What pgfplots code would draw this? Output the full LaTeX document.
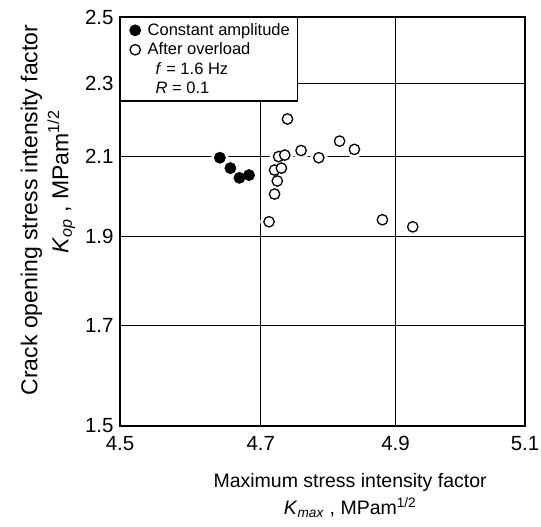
\documentclass[border=0pt]{standalone}
\usepackage{fontspec}
\setmainfont{Liberation Sans}
\usepackage{pgfplots}
\pgfplotsset{compat=1.18}

% K_op against K_max, both axes logarithmic
\pgfplotstableread{
kmax   kop
4.641  2.097
4.656  2.070
4.669  2.045
4.683  2.052
}\constamp
\pgfplotstableread{
kmax   kop
4.739  2.201
4.726  2.100
4.735  2.104
4.759  2.116
4.785  2.097
4.816  2.141
4.838  2.119
4.720  2.065
4.730  2.070
4.724  2.037
4.720  2.004
4.712  1.936
4.880  1.941
4.926  1.924
}\overload

\begin{document}
\begin{tikzpicture}
\useasboundingbox (-120pt,-101pt) rectangle (421pt,426pt);
\begin{axis}[
    at={(0pt,0pt)}, anchor=south west,
    scale only axis, width=405pt, height=409pt,
    xmode=log, ymode=log,
    xmin=4.5, xmax=5.1, ymin=1.5, ymax=2.5,
    xtick={4.5,4.7,4.9,5.1}, xticklabels={4.5,4.7,4.9,5.1},
    ytick={1.5,1.7,1.9,2.1,2.3,2.5}, yticklabels={1.5,1.7,1.9,2.1,2.3,2.5},
    minor xtick={}, minor ytick={},
    major tick length=0pt,
    grid=major, major grid style={black, line width=0.9pt},
    axis line style={line width=1.4pt},
    /pgf/number format/assume math mode=true,
    tick label style={font=\fontsize{20.5}{20.5}\selectfont},
    yticklabel style={xshift=-3pt},
    xticklabel style={yshift=-7pt},
    xlabel={Maximum stress intensity factor\\\textit{K}\textsubscript{\textit{max}} , MPam\textsuperscript{1/2}},
    xlabel style={font=\fontsize{19.5}{27}\selectfont, align=center,
        at={(axis description cs:0.568,-0.171)}, anchor=center},
    ylabel={Crack opening stress intensity factor\\\hspace*{56pt}\textit{K}\textsubscript{\textit{op}} , MPam\textsuperscript{1/2}},
    ylabel style={font=\fontsize{23}{31}\selectfont, align=center,
        at={(axis description cs:-0.178,0.528)}, anchor=center},
    legend style={at={(axis description cs:0,1)}, anchor=north west,
        draw=black, line width=1.2pt, fill=white,
        font=\fontsize{16.5}{18}\selectfont,
        inner xsep=6pt, inner ysep=4pt, row sep=2pt,
        /tikz/every odd column/.append style={column sep=5pt}},
    legend cell align=left,
]
% white halo breaks the grid round the points
\addplot[only marks, mark=*, mark size=8.5pt, forget plot,
    mark options={draw=white, fill=white}] table {\constamp};
\addplot[only marks, mark=*, mark size=8.5pt, forget plot,
    mark options={draw=white, fill=white}] table {\overload};
\addplot[only marks, mark=*, mark size=5.5pt,
    mark options={fill=black, draw=black, line width=0.8pt}] table {\constamp};
\addlegendentry{Constant amplitude}
\addplot[only marks, mark=*, mark size=5.2pt,
    mark options={fill=white, draw=black, line width=1.3pt}] table {\overload};
\addlegendentry{After overload}
\addlegendimage{empty legend}
\addlegendentry{\hspace{8pt}\textit{f} = 1.6 Hz}
\addlegendimage{empty legend}
\addlegendentry{\hspace{8pt}\textit{R} = 0.1}
\end{axis}
\end{tikzpicture}
\end{document}
